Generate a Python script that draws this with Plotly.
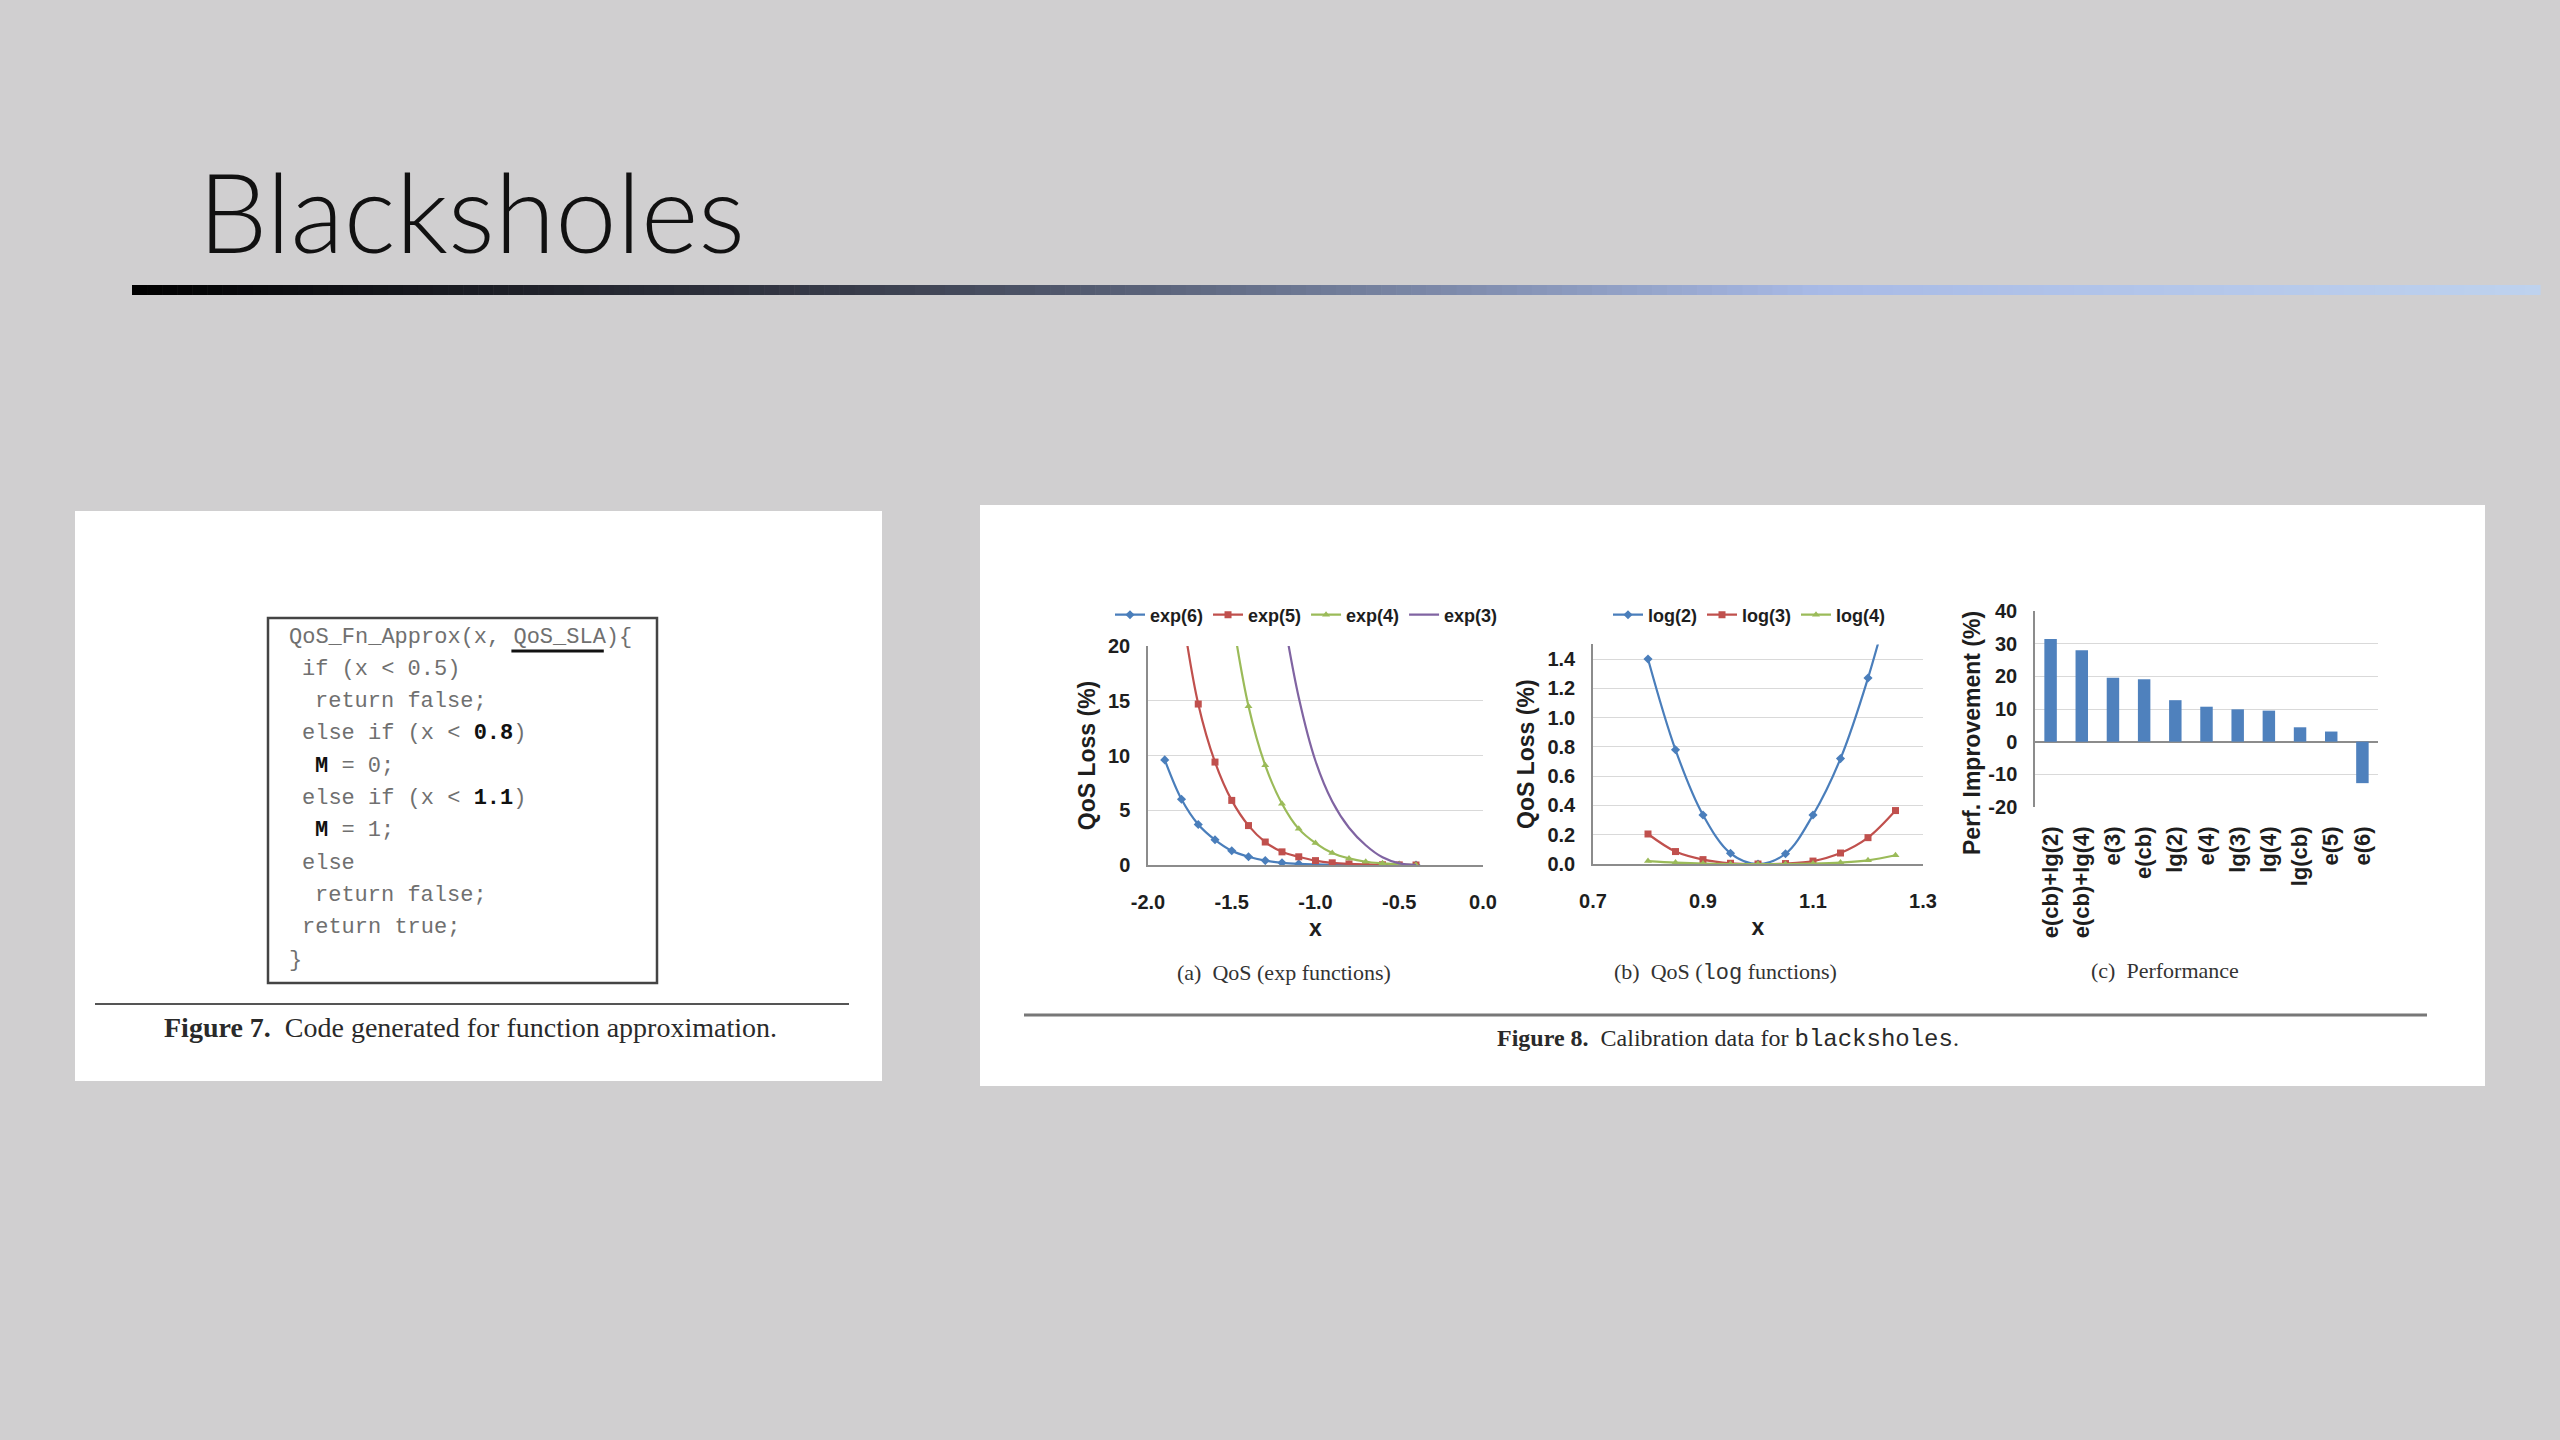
import plotly.graph_objects as go

W, H = 2560, 1440


def fx(p):
    return p / W


def fy(p):
    return 1 - p / H


# ---------------- data ----------------
exp_x = [-1.9, -1.8, -1.7, -1.6, -1.5, -1.4, -1.3, -1.2, -1.1, -1.0, -0.9, -0.8, -0.7, -0.6, -0.5, -0.4]
exp6 = [9.6, 6.0, 3.7, 2.3, 1.3, 0.75, 0.4, 0.2, 0.1, 0.05, 0.02, 0.01, 0.0, 0.0, 0.0, 0.0]
exp5 = [None, 23.5, 14.7, 9.4, 5.9, 3.6, 2.1, 1.2, 0.75, 0.4, 0.2, 0.1, 0.05, 0.02, 0.01, 0.0]
exp4 = [None, None, None, None, 23.0, 14.5, 9.1, 5.6, 3.3, 2.0, 1.1, 0.6, 0.3, 0.15, 0.05, 0.0]
exp3 = [None, None, None, None, None, None, None, 23.5, 15.3, 9.5, 5.8, 3.4, 1.8, 0.7, 0.15, 0.0]
exp_names = ["exp(6)", "exp(5)", "exp(4)", "exp(3)"]
exp_tickvals = [-2.0, -1.5, -1.0, -0.5, 0.0]
exp_ticktext = ["-2.0", "-1.5", "-1.0", "-0.5", "0.0"]

log_x = [0.8, 0.85, 0.9, 0.95, 1.0, 1.05, 1.1, 1.15, 1.2, 1.25]
log2 = [1.40, 0.78, 0.335, 0.073, 0.0, 0.07, 0.335, 0.72, 1.27, 1.95]
log3 = [0.205, 0.085, 0.03, 0.005, 0.0, 0.003, 0.02, 0.075, 0.18, 0.365]
log4 = [0.02, 0.01, 0.003, 0.0, 0.0, 0.0, 0.003, 0.01, 0.025, 0.06]
log_names = ["log(2)", "log(3)", "log(4)"]
log_tickvals = [0.7, 0.9, 1.1, 1.3]
log_ticktext = ["0.7", "0.9", "1.1", "1.3"]
log_ytickvals = [0.0, 0.2, 0.4, 0.6, 0.8, 1.0, 1.2, 1.4]
log_yticktext = ["0.0", "0.2", "0.4", "0.6", "0.8", "1.0", "1.2", "1.4"]

perf_labels = ["e(cb)+lg(2)", "e(cb)+lg(4)", "e(3)", "e(cb)", "lg(2)", "e(4)",
               "lg(3)", "lg(4)", "lg(cb)", "e(5)", "e(6)"]
perf_vals = [31.4, 28.0, 19.6, 19.1, 12.7, 10.7, 9.9, 9.5, 4.4, 3.1, -12.7]
perf_tickvals = [-20, -10, 0, 10, 20, 30, 40]
perf_ticktext = ["-20", "-10", "0", "10", "20", "30", "40"]

code_lines = [
    (0, 'QoS_Fn_Approx(x, QoS_SLA){'),
    (1, 'if (x < 0.5)'),
    (2, 'return false;'),
    (1, 'else if (x < <span style="color:#111111"><b>0.8</b></span>)'),
    (2, '<span style="color:#111111"><b>M</b></span> = 0;'),
    (1, 'else if (x < <span style="color:#111111"><b>1.1</b></span>)'),
    (2, '<span style="color:#111111"><b>M</b></span> = 1;'),
    (1, 'else'),
    (2, 'return false;'),
    (1, 'return true;'),
    (0, '}'),
]

# ---------------- styles ----------------
BLUE, RED, GREEN, PURPLE = "#4a7ebb", "#c0504d", "#9bbb59", "#8064a2"
BAR = "#4f81bd"
SANS = "Liberation Sans, Arial, sans-serif"
SERIF = "Liberation Serif, Times New Roman, serif"
MONO = "Liberation Mono, Courier New, monospace"
GRID = "#d9d9d9"
AXL = "#8c8c8c"
TICKF = dict(family=SANS, size=20, color="#1e1e1e", weight="bold")
TITLEF = dict(family=SANS, size=23, color="#1e1e1e", weight="bold")
LEGF = dict(family=SANS, size=18, color="#1e1e1e", weight="bold")

fig = go.Figure()

# chart (a)
for yv, nm, col, sym in zip([exp6, exp5, exp4, exp3], exp_names,
                            [BLUE, RED, GREEN, PURPLE],
                            ["diamond", "square", "triangle-up", None]):
    fig.add_trace(go.Scatter(
        x=exp_x, y=yv, name=nm, mode="lines+markers" if sym else "lines",
        line=dict(color=col, width=2.2, shape="spline"),
        marker=dict(symbol=sym or "circle", size=7, color=col),
        connectgaps=False, xaxis="x", yaxis="y", legend="legend"))

# chart (b)
for yv, nm, col, sym in zip([log2, log3, log4], log_names,
                            [BLUE, RED, GREEN],
                            ["diamond", "square", "triangle-up"]):
    fig.add_trace(go.Scatter(
        x=log_x, y=yv, name=nm, mode="lines+markers",
        line=dict(color=col, width=2.2, shape="spline"),
        marker=dict(symbol=sym, size=7, color=col),
        xaxis="x2", yaxis="y2", legend="legend2"))

# chart (c)
fig.add_trace(go.Bar(x=perf_labels, y=perf_vals, marker=dict(color=BAR, line=dict(width=0)),
                     width=0.4, showlegend=False, xaxis="x3", yaxis="y3"))

# ---------------- decorations ----------------
shapes = []
shapes.append(dict(type="rect", xref="paper", yref="paper", x0=fx(75), x1=fx(882), y0=fy(1081), y1=fy(511),
                   fillcolor="white", line=dict(width=0), layer="below"))
shapes.append(dict(type="rect", xref="paper", yref="paper", x0=fx(980), x1=fx(2485), y0=fy(1086), y1=fy(505),
                   fillcolor="white", line=dict(width=0), layer="below"))
shapes.append(dict(type="rect", xref="paper", yref="paper", x0=fx(268), x1=fx(657), y0=fy(983), y1=fy(618),
                   fillcolor="white", line=dict(color="#444444", width=2.5), layer="below"))
shapes.append(dict(type="line", xref="paper", yref="paper", x0=fx(95), x1=fx(849), y0=fy(1004), y1=fy(1004),
                   line=dict(color="#555555", width=2), layer="below"))
shapes.append(dict(type="line", xref="paper", yref="paper", x0=fx(1024), x1=fx(2427), y0=fy(1015), y1=fy(1015),
                   line=dict(color="#777777", width=3), layer="below"))

stops = [(0.0, (0, 0, 0)), (0.30, (56, 60, 74)), (0.52, (118, 130, 160)),
         (0.70, (168, 186, 230)), (1.0, (190, 210, 238))]


def grad(t):
    for (t0, c0), (t1, c1) in zip(stops[:-1], stops[1:]):
        if t <= t1:
            u = (t - t0) / (t1 - t0)
            return "rgb(%d,%d,%d)" % tuple(round(a + (b - a) * u) for a, b in zip(c0, c1))
    return "rgb(%d,%d,%d)" % stops[-1][1]


x_start, x_end, nseg = 132, 2540, 160
seg = (x_end - x_start) / nseg
for i in range(nseg):
    shapes.append(dict(type="rect", xref="paper", yref="paper",
                       x0=fx(x_start + i * seg), x1=fx(x_start + (i + 1) * seg + 0.6),
                       y0=fy(295), y1=fy(285), fillcolor=grad((i + 0.5) / nseg),
                       line=dict(width=0), layer="below"))

CHARW = 0.6 * 22
CODE_X = 287
shapes.append(dict(type="line", xref="paper", yref="paper",
                   x0=fx(CODE_X + 17 * CHARW), x1=fx(CODE_X + 24 * CHARW),
                   y0=fy(651), y1=fy(651), line=dict(color="#111111", width=3)))

annotations = []
annotations.append(dict(text="Blacksholes", x=fx(196), y=fy(210), xref="paper", yref="paper",
                        xanchor="left", yanchor="middle", showarrow=False,
                        font=dict(family="Lato, Open Sans, sans-serif", size=110, weight=300,
                                  color="#111111")))

for i, (ind, txt) in enumerate(code_lines):
    annotations.append(dict(text=txt, x=fx(CODE_X + ind * CHARW), y=fy(637 + i * 32.3),
                            xref="paper", yref="paper", xanchor="left", yanchor="middle",
                            showarrow=False, font=dict(family=MONO, size=22, color="#707070")))

annotations.append(dict(text="<b>Figure 7.</b>\u00a0 Code generated for function approximation.",
                        x=fx(470), y=fy(1027), xref="paper", yref="paper", xanchor="center",
                        yanchor="middle", showarrow=False, font=dict(family=SERIF, size=28, color="#2a2a2a")))
annotations.append(dict(text="<b>Figure 8.</b>\u00a0 Calibration data for <span style=\"font-family:Liberation Mono\">blacksholes</span>.",
                        x=fx(1728), y=fy(1039), xref="paper", yref="paper", xanchor="center",
                        yanchor="middle", showarrow=False, font=dict(family=SERIF, size=24, color="#2a2a2a")))
sub_font = dict(family=SERIF, size=22, color="#333333")
annotations.append(dict(text="(a)\u00a0 QoS (exp functions)", x=fx(1284), y=fy(972), xref="paper", yref="paper",
                        xanchor="center", yanchor="middle", showarrow=False, font=sub_font))
annotations.append(dict(text="(b)\u00a0 QoS (<span style=\"font-family:Liberation Mono\">log</span> functions)",
                        x=fx(1725), y=fy(972), xref="paper", yref="paper",
                        xanchor="center", yanchor="middle", showarrow=False, font=sub_font))
annotations.append(dict(text="(c)\u00a0 Performance", x=fx(2165), y=fy(970), xref="paper", yref="paper",
                        xanchor="center", yanchor="middle", showarrow=False, font=sub_font))
# y title of chart (c), placed like the original (centred lower than the plot area)
annotations.append(dict(text="Perf. Improvement (%)", x=fx(1972), y=fy(733), xref="paper", yref="paper",
                        xanchor="center", yanchor="middle", textangle=-90, showarrow=False, font=TITLEF))

legend_common = dict(orientation="h", xanchor="left", yanchor="middle", font=LEGF,
                     bgcolor="rgba(0,0,0,0)", itemwidth=30, borderwidth=0, itemclick=False,
                     itemdoubleclick=False)

fig.update_layout(
    width=W, height=H, autosize=False,
    margin=dict(l=0, r=0, t=0, b=0, pad=0, autoexpand=False),
    paper_bgcolor="#d0cfd0", plot_bgcolor="rgba(0,0,0,0)",
    showlegend=True,
    legend=dict(x=fx(1110), y=fy(615), **legend_common),
    legend2=dict(x=fx(1608), y=fy(615), **legend_common),
    xaxis=dict(domain=[fx(1148), fx(1483)], anchor="y", range=[-2.0, 0.0], automargin=False,
               tickvals=exp_tickvals, ticktext=exp_ticktext, showgrid=False, zeroline=False,
               showline=True, linecolor=AXL, linewidth=1.5, tickfont=TICKF, ticklabelstandoff=18,
               title=dict(text="x", font=TITLEF, standoff=8)),
    yaxis=dict(domain=[fy(865), fy(646)], anchor="x", range=[0, 20], dtick=5, tick0=0, automargin=False,
               showgrid=True, gridcolor=GRID, zeroline=False, showline=True, linecolor=AXL,
               linewidth=1.5, tickfont=TICKF, ticklabelstandoff=12,
               title=dict(text="QoS Loss (%)", font=TITLEF, standoff=6)),
    xaxis2=dict(domain=[fx(1593), fx(1923)], anchor="y2", range=[0.7, 1.3], automargin=False,
                tickvals=log_tickvals, ticktext=log_ticktext, showgrid=False, zeroline=False,
                showline=True, linecolor=AXL, linewidth=1.5, tickfont=TICKF, ticklabelstandoff=18,
                title=dict(text="x", font=TITLEF, standoff=8)),
    yaxis2=dict(domain=[fy(864), fy(644.4)], anchor="x2", range=[0, 1.5], automargin=False,
                tickvals=log_ytickvals, ticktext=log_yticktext,
                showgrid=True, gridcolor=GRID, zeroline=False, showline=True, linecolor=AXL,
                linewidth=1.5, tickfont=TICKF, ticklabelstandoff=12,
                title=dict(text="QoS Loss (%)", font=TITLEF, standoff=6)),
    xaxis3=dict(domain=[fx(2035), fx(2378)], anchor="y3", type="category", automargin=False,
                showgrid=False, zeroline=False, showline=False, tickangle=-90,
                tickfont=dict(family=SANS, size=22, color="#1e1e1e", weight="bold"),
                ticklabelstandoff=14),
    yaxis3=dict(domain=[fy(807), fy(611)], anchor="x3", range=[-20, 40], automargin=False,
                tickvals=perf_tickvals, ticktext=perf_ticktext,
                showgrid=True, gridcolor=GRID, zeroline=True, zerolinecolor=AXL, zerolinewidth=1.5,
                showline=True, linecolor=AXL, linewidth=1.5, tickfont=TICKF, ticklabelstandoff=12),
    shapes=shapes,
    annotations=annotations,
)

fig.write_html("out.html", config={"displayModeBar": False},
               post_script="document.body.style.margin='0';document.body.style.overflow='hidden';")
